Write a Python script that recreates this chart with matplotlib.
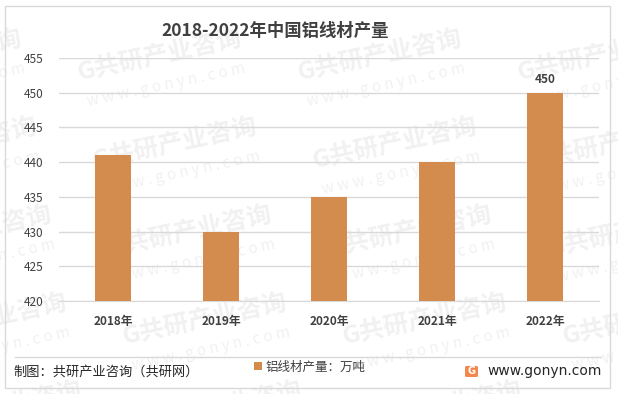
import matplotlib
matplotlib.use("Agg")
from matplotlib import pyplot as plt
from matplotlib.patches import Rectangle, FancyBboxPatch
import numpy as np

plt.rcParams['font.family'] = ['Noto Sans CJK SC', 'DejaVu Sans']

years = ["2018年", "2019年", "2020年", "2021年", "2022年"]
output = [441, 430, 435, 440, 450]
labeled = [False, False, False, False, True]
y_ticks = [420, 425, 430, 435, 440, 445, 450, 455]

title = "2018-2022年中国铝线材产量"
legend_label = "铝线材产量：万吨"
source = "制图：共研产业咨询（共研网）"
site = "www.gonyn.com"

bar_color = "#D48C4E"
W, H = 618, 394

fig = plt.figure(figsize=(W / 100, H / 100), dpi=100)
fig.patch.set_facecolor("white")

# watermark tiles behind everything (pixel grid, rotated ~12 deg)
rot = 12
for r in range(5):
    cy = 55 + 88 * r
    for c in range(-1, 3):
        cx = 160 + 15 * r + 220 * c
        fig.text(cx / W, 1 - cy / H, "G共研产业咨询", fontsize=18, fontweight="bold",
                 color="#000000", alpha=0.06, rotation=rot, rotation_mode="anchor",
                 ha="center", va="center", zorder=-1)
        fig.text((cx + 6) / W, 1 - (cy + 30) / H, "w w w . g o n y n . c o m",
                 fontsize=11, color="#000000", alpha=0.06, rotation=rot,
                 rotation_mode="anchor", ha="center", va="center", zorder=-1)

# outer frame
fig.patches.append(Rectangle((5 / W, 1 - 388 / H), 605 / W, 382 / H,
                             transform=fig.transFigure, fill=False,
                             edgecolor="#D9D9D9", linewidth=1.0, zorder=1))

ax = fig.add_axes([59 / W, 1 - 301 / H, 540 / W, 243 / H])
ax.set_facecolor("none")
x = np.arange(len(years))
bars = ax.bar(x, [v - y_ticks[0] for v in output], bottom=y_ticks[0],
              width=0.33, color=bar_color, zorder=3)

for xi, v, show in zip(x, output, labeled):
    if show:
        ax.text(xi, v + 0.9, str(v), ha="center", va="bottom", fontsize=8.5,
                fontweight="bold", color="#404040")

ax.set_xlim(-0.5, len(years) - 0.5)
ax.set_ylim(y_ticks[0], y_ticks[-1])
ax.set_yticks(y_ticks)
ax.set_xticks(x)
ax.set_xticklabels(years)
ax.yaxis.grid(True, color="#D9D9D9", linewidth=1.0, zorder=0)
ax.set_axisbelow(True)
for s in ax.spines.values():
    s.set_visible(False)
ax.spines["bottom"].set_visible(True)
ax.spines["bottom"].set_color("#D9D9D9")
ax.tick_params(axis="both", length=0, labelsize=8.5, labelcolor="#404040")
ax.tick_params(axis="y", pad=11)
ax.tick_params(axis="x", pad=10)
for lab in ax.get_xticklabels():
    lab.set_fontweight("bold")

fig.text(275 / W, 1 - 31 / H, title, ha="center", va="center",
         fontsize=12.5, fontweight="bold", color="#404040")

# footer separator
fig.add_artist(plt.Line2D([15 / W, 601 / W], [1 - 357 / H, 1 - 357 / H],
                          transform=fig.transFigure, color="#D9D9D9", linewidth=1.0))

leg = fig.legend([bars], [legend_label], loc="center", bbox_to_anchor=(310 / W, 1 - 367 / H),
                 frameon=False, fontsize=9, handlelength=0.6, handleheight=0.6,
                 handletextpad=0.3, borderpad=0)
for t in leg.get_texts():
    t.set_color("#404040")

fig.text(13 / W, 1 - 372 / H, source, ha="left", va="center", fontsize=9.5, color="#262626")

# logo
fig.patches.append(FancyBboxPatch((465 / W, 1 - 377 / H), 13 / W, 11 / H,
                                  boxstyle="round,pad=0,rounding_size=0.003",
                                  transform=fig.transFigure, facecolor="#F2884B",
                                  edgecolor="none"))
fig.text(471.5 / W, 1 - 371.5 / H, "G", ha="center", va="center", fontsize=7,
         fontweight="bold", color="white", family="DejaVu Sans")
fig.text(487 / W, 1 - 371 / H, site, ha="left", va="center", fontsize=10,
         color="#262626", family="DejaVu Sans")

fig.savefig("out.png", dpi=100)
